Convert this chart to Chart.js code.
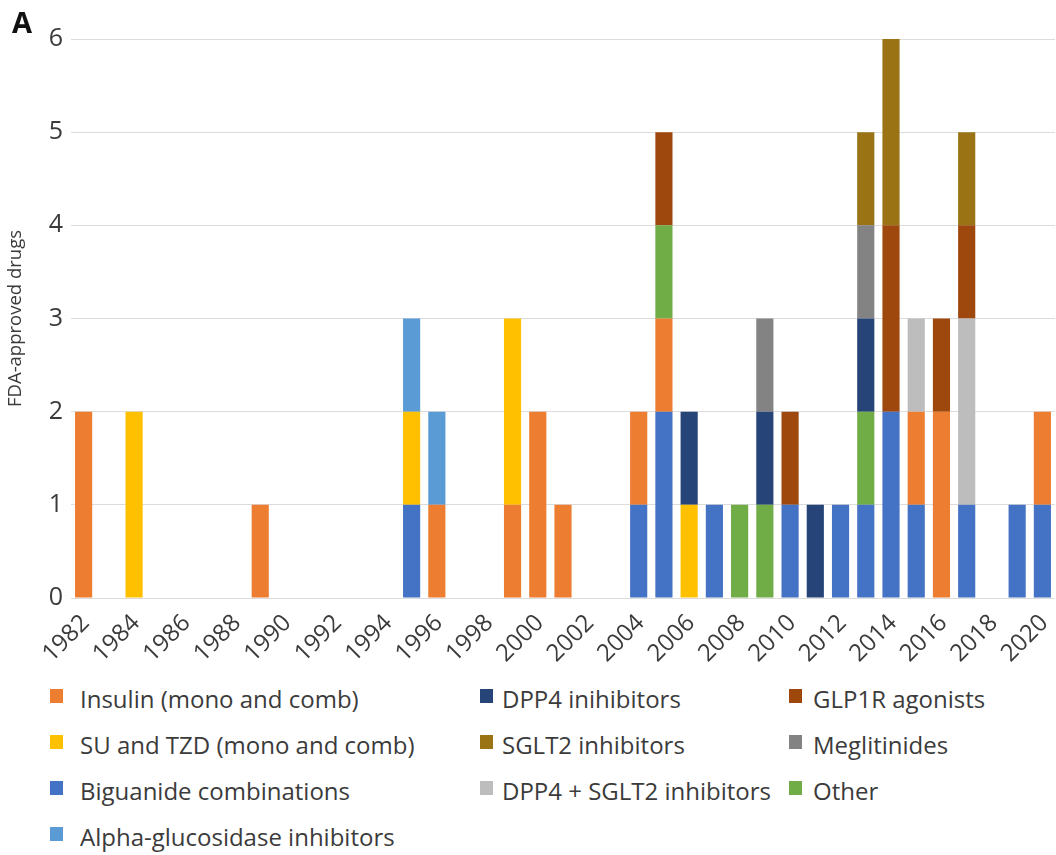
<!DOCTYPE html>
<html>
<head>
<meta charset="utf-8">
<script src="https://cdn.jsdelivr.net/npm/chart.js@4.4.1/dist/chart.umd.min.js"></script>
<style>
  body { margin: 0; background: #fff; font-family: "Open Sans", sans-serif; color: #3b3b3b; }
  #wrap { position: relative; width: 1056px; height: 855px; }
  #chart-box { position: absolute; left: 0; top: 0; width: 1056px; height: 680px; }
  #panel { position: absolute; left: 12px; top: 2px; font: bold 29px "Open Sans", sans-serif; color: #111; }
  .item { position: absolute; height: 30px; line-height: 30px; font-size: 24px; white-space: nowrap; }
  .sw { position: absolute; width: 13px; height: 14px; }
</style>
</head>
<body>
<div id="wrap">
  <div id="chart-box"><canvas id="drugs"></canvas></div>
  <div id="panel">A</div>
  <div id="legend"></div>
</div>
<script>
// years 1982 .. 2020
const years = ["1982","1983","1984","1985","1986","1987","1988","1989","1990","1991",
  "1992","1993","1994","1995","1996","1997","1998","1999","2000","2001",
  "2002","2003","2004","2005","2006","2007","2008","2009","2010","2011",
  "2012","2013","2014","2015","2016","2017","2018","2019","2020"];

const yTicks = [0, 1, 2, 3, 4, 5, 6];

//               82 83 84 85 86 87 88 89 90 91 92 93 94 95 96 97 98 99 00 01 02 03 04 05 06 07 08 09 10 11 12 13 14 15 16 17 18 19 20
const biguanide = [0, 0, 0, 0, 0, 0, 0, 0, 0, 0, 0, 0, 0, 1, 0, 0, 0, 0, 0, 0, 0, 0, 1, 2, 0, 1, 0, 0, 1, 0, 1, 1, 2, 1, 0, 1, 0, 1, 1];
const insulin   = [2, 0, 0, 0, 0, 0, 0, 1, 0, 0, 0, 0, 0, 0, 1, 0, 0, 1, 2, 1, 0, 0, 1, 1, 0, 0, 0, 0, 0, 0, 0, 0, 0, 1, 2, 0, 0, 0, 1];
const suTzd     = [0, 0, 2, 0, 0, 0, 0, 0, 0, 0, 0, 0, 0, 1, 0, 0, 0, 2, 0, 0, 0, 0, 0, 0, 1, 0, 0, 0, 0, 0, 0, 0, 0, 0, 0, 0, 0, 0, 0];
const alphaGluc = [0, 0, 0, 0, 0, 0, 0, 0, 0, 0, 0, 0, 0, 1, 1, 0, 0, 0, 0, 0, 0, 0, 0, 0, 0, 0, 0, 0, 0, 0, 0, 0, 0, 0, 0, 0, 0, 0, 0];
const other     = [0, 0, 0, 0, 0, 0, 0, 0, 0, 0, 0, 0, 0, 0, 0, 0, 0, 0, 0, 0, 0, 0, 0, 1, 0, 0, 1, 1, 0, 0, 0, 1, 0, 0, 0, 0, 0, 0, 0];
const dpp4      = [0, 0, 0, 0, 0, 0, 0, 0, 0, 0, 0, 0, 0, 0, 0, 0, 0, 0, 0, 0, 0, 0, 0, 0, 1, 0, 0, 1, 0, 1, 0, 1, 0, 0, 0, 0, 0, 0, 0];
const dpp4Sglt2 = [0, 0, 0, 0, 0, 0, 0, 0, 0, 0, 0, 0, 0, 0, 0, 0, 0, 0, 0, 0, 0, 0, 0, 0, 0, 0, 0, 0, 0, 0, 0, 0, 0, 1, 0, 2, 0, 0, 0];
const meglit    = [0, 0, 0, 0, 0, 0, 0, 0, 0, 0, 0, 0, 0, 0, 0, 0, 0, 0, 0, 0, 0, 0, 0, 0, 0, 0, 0, 1, 0, 0, 0, 1, 0, 0, 0, 0, 0, 0, 0];
const glp1r     = [0, 0, 0, 0, 0, 0, 0, 0, 0, 0, 0, 0, 0, 0, 0, 0, 0, 0, 0, 0, 0, 0, 0, 1, 0, 0, 0, 0, 1, 0, 0, 0, 2, 0, 1, 1, 0, 0, 0];
const sglt2     = [0, 0, 0, 0, 0, 0, 0, 0, 0, 0, 0, 0, 0, 0, 0, 0, 0, 0, 0, 0, 0, 0, 0, 0, 0, 0, 0, 0, 0, 0, 0, 1, 2, 0, 0, 1, 0, 0, 0];

// stacking order, bottom first
const series = [
  { label: "Biguanide combinations", data: biguanide, color: "#4472C4" },
  { label: "Insulin (mono and comb)", data: insulin, color: "#ED7D31" },
  { label: "SU and TZD (mono and comb)", data: suTzd, color: "#FFC000" },
  { label: "Alpha-glucosidase inhibitors", data: alphaGluc, color: "#5B9BD5" },
  { label: "Other", data: other, color: "#70AD47" },
  { label: "DPP4 inihibitors", data: dpp4, color: "#264478" },
  { label: "DPP4 + SGLT2 inhibitors", data: dpp4Sglt2, color: "#BDBDBD" },
  { label: "Meglitinides", data: meglit, color: "#838383" },
  { label: "GLP1R agonists", data: glp1r, color: "#9E480E" },
  { label: "SGLT2 inhibitors", data: sglt2, color: "#997314" },
];

// legend columns as in the figure
const legendCols = [
  ["Insulin (mono and comb)", "SU and TZD (mono and comb)", "Biguanide combinations", "Alpha-glucosidase inhibitors"],
  ["DPP4 inihibitors", "SGLT2 inhibitors", "DPP4 + SGLT2 inhibitors"],
  ["GLP1R agonists", "Meglitinides", "Other"],
];

const tickColor = "#3b3b3b";
const gridColor = "#dcdcdc";

const ctx = document.getElementById("drugs");

const chart = new Chart(ctx, {
  type: "bar",
  data: {
    labels: years,
    datasets: series.map((s) => ({
      label: s.label,
      data: s.data,
      backgroundColor: s.color,
      borderWidth: 0,
      barPercentage: 0.68,
      categoryPercentage: 1,
    })),
  },
  options: {
    responsive: true,
    maintainAspectRatio: false,
    animation: false,
    layout: { padding: { top: 39, right: 1, left: 0, bottom: 0 } },
    plugins: { legend: { display: false }, tooltip: { enabled: false } },
    scales: {
      x: {
        stacked: true,
        grid: { display: false, drawTicks: false },
        border: { display: false },
        ticks: {
          autoSkip: false,
          minRotation: 45,
          maxRotation: 45,
          padding: 11,
          labelOffset: 2,
          color: tickColor,
          font: { family: "Open Sans", size: 24 },
          callback: (v, i) => (i % 2 === 0 ? years[i] : ""),
        },
        afterFit: (s) => {
          s.height = 82;
          s.paddingLeft = 0;
          s.paddingRight = 0;
        },
      },
      y: {
        stacked: true,
        min: 0,
        max: 6,
        afterBuildTicks: (s) => { s.ticks = yTicks.map((v) => ({ value: v })); },
        grid: { color: gridColor, lineWidth: 1, drawTicks: false },
        border: { display: false },
        ticks: {
          padding: 8,
          color: tickColor,
          font: { family: "Open Sans", size: 25 },
        },
        title: {
          display: true,
          text: "FDA-approved drugs",
          color: tickColor,
          font: { family: "Open Sans", size: 18.5 },
          padding: { top: 5, bottom: 0 },
        },
        afterFit: (s) => {
          s.width = 71;
          s.paddingTop = 0;
          s.paddingBottom = 0;
        },
      },
    },
  },
});

// html legend, 3 columns
const colSwatchX = [50, 480, 789];
const colTextX = [80, 502, 813];
const rowY = [699, 745, 791, 837];
const legendBox = document.getElementById("legend");
legendCols.forEach((col, c) => {
  col.forEach((name, r) => {
    const s = series.find((d) => d.label === name);
    const sw = document.createElement("div");
    sw.className = "sw";
    sw.style.left = colSwatchX[c] + "px";
    sw.style.top = (rowY[r] - 10) + "px";
    sw.style.background = s.color;
    legendBox.appendChild(sw);
    const t = document.createElement("div");
    t.className = "item";
    t.style.left = colTextX[c] + "px";
    t.style.top = (rowY[r] - 15) + "px";
    t.textContent = name;
    legendBox.appendChild(t);
  });
});
</script>
</body>
</html>
